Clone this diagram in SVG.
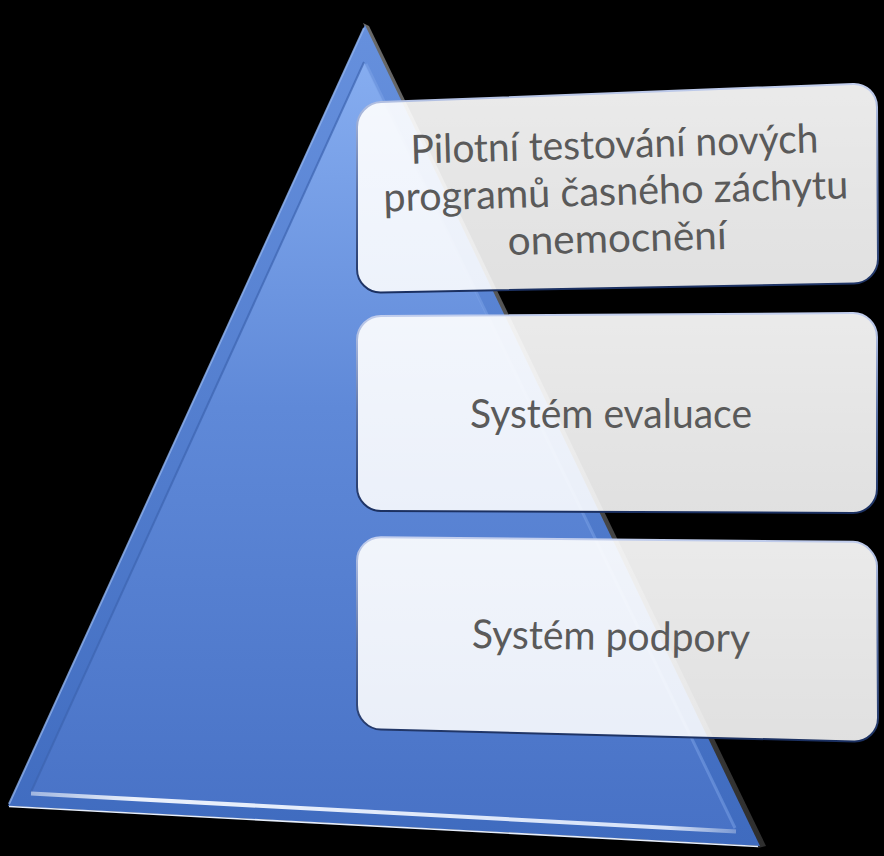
<svg xmlns="http://www.w3.org/2000/svg" width="884" height="856" viewBox="0 0 884 856">
  <defs>
    <linearGradient id="bevelFill" x1="0" y1="0" x2="0" y2="1">
      <stop offset="0" stop-color="#6690dd"/>
      <stop offset="1" stop-color="#3f6bbf"/>
    </linearGradient>
    <linearGradient id="faceFill" x1="0" y1="0" x2="0" y2="1">
      <stop offset="0" stop-color="#86adf0"/>
      <stop offset="0.45" stop-color="#5f89d8"/>
      <stop offset="1" stop-color="#4872c6"/>
    </linearGradient>
    <linearGradient id="sideFill" x1="0" y1="0" x2="1" y2="0">
      <stop offset="0" stop-color="#6a6a6a"/>
      <stop offset="1" stop-color="#2e2e2e"/>
    </linearGradient>
    <linearGradient id="boxFill" x1="0" y1="0" x2="0" y2="1">
      <stop offset="0" stop-color="#ffffff" stop-opacity="0.92"/>
      <stop offset="1" stop-color="#ffffff" stop-opacity="0.88"/>
    </linearGradient>
    <linearGradient id="boxStroke" x1="0" y1="0" x2="0" y2="1">
      <stop offset="0" stop-color="#c3cfee"/>
      <stop offset="0.5" stop-color="#5d74a8"/>
      <stop offset="1" stop-color="#1a2f60"/>
    </linearGradient>
    <linearGradient id="bottomHi" x1="0" y1="0" x2="1" y2="0">
      <stop offset="0" stop-color="#ffffff" stop-opacity="0.5"/>
      <stop offset="0.15" stop-color="#f4f8ff" stop-opacity="0.95"/>
      <stop offset="0.9" stop-color="#e8f0ff" stop-opacity="0.9"/>
      <stop offset="1" stop-color="#ffffff" stop-opacity="0.3"/>
    </linearGradient>
  </defs>
  <style>
    .box { fill: url(#boxFill); stroke: url(#boxStroke); stroke-width: 2; }
    .lbl { font-family: Lato, "Open Sans", "Liberation Sans", sans-serif; font-size: 40px; fill: #5a5a5a; text-anchor: middle; }
  </style>

  <rect x="0" y="0" width="884" height="856" fill="#000000"/>

  <g id="pyramid">
    <!-- dark right side -->
    <polygon points="363,23 369,26 766,846 758,848" fill="url(#sideFill)"/>
    <!-- outer bevel -->
    <polygon points="365,25 8,806 760,846" fill="url(#bevelFill)"/>
    <!-- left outer highlight -->
    <line x1="364" y1="28" x2="9" y2="804" stroke="#8fb2ee" stroke-width="2" opacity="0.8"/>
    <!-- bottom outer highlight -->
    <line x1="9" y1="806.5" x2="758" y2="846.5" stroke="#e6eefc" stroke-width="1.6"/>
    <!-- inner face -->
    <polygon points="364,62 31,792 736,830" fill="url(#faceFill)"/>
    <!-- inner face left edge shading -->
    <line x1="364" y1="62" x2="31" y2="792" stroke="#3d64b0" stroke-width="2" opacity="0.7"/>
    <!-- inner face right edge light -->
    <line x1="366" y1="64" x2="735" y2="828" stroke="#7ea4e8" stroke-width="3" opacity="0.5"/>
    <!-- bottom highlight stripe -->
    <line x1="31" y1="793.5" x2="736" y2="831.5" stroke="url(#bottomHi)" stroke-width="4"/>
  </g>

  <g id="box1">
    <path class="box" d="M381,102.1 L853,83.9 C866.2,83.4 877,93.8 877,107 L878,259 C878,272.2 867.2,283.2 854,283.5 L381,292.5 C367.8,292.8 357,282.2 357,269 L357,127 C357,113.8 367.8,102.6 381,102.1 Z"/>
    <g transform="rotate(-1.6 616 200)">
      <text class="lbl" x="616" y="158" textLength="408" lengthAdjust="spacingAndGlyphs">Pilotní testování nových</text>
      <text class="lbl" x="616" y="205" textLength="465" lengthAdjust="spacingAndGlyphs">programů časného záchytu</text>
      <text class="lbl" x="616" y="252" textLength="219" lengthAdjust="spacingAndGlyphs">onemocnění</text>
    </g>
  </g>

  <g id="box2">
    <path class="box" d="M381,315.9 L853,313.1 C866.2,313.05 877,323.8 877,337 L877,489 C877,502.2 866.2,512.95 853,512.9 L381,511.1 C367.8,511.05 357,500.2 357,487 L357,340 C357,326.8 367.8,315.95 381,315.9 Z"/>
    <text class="lbl" x="611" y="428" textLength="282" lengthAdjust="spacingAndGlyphs">Systém evaluace</text>
  </g>

  <g id="box3">
    <path class="box" d="M381,537.2 L853,541.8 C866.2,541.9 877,555.2 877,566 L878,718 C878,731.2 867.2,741.7 854,741.4 L381,729.6 C367.8,729.3 357,718.2 357,705 L357,561 C357,547.8 367.8,537.1 381,537.2 Z"/>
    <text class="lbl" x="611" y="650" textLength="278" lengthAdjust="spacingAndGlyphs" transform="rotate(0.8 611 640)">Systém podpory</text>
  </g>

  <g id="connectors"/>
</svg>
